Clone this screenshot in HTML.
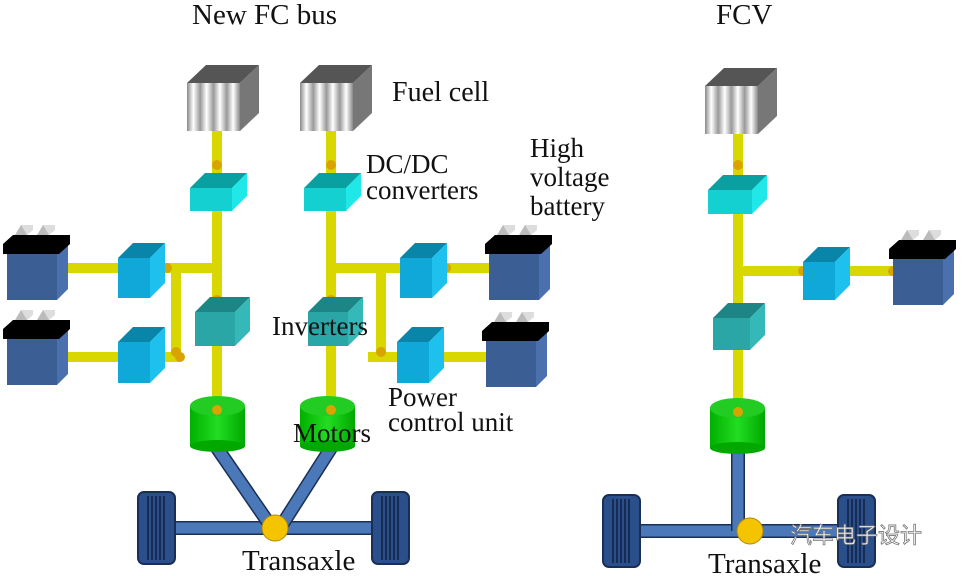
<!DOCTYPE html>
<html><head><meta charset="utf-8"><style>
html,body{margin:0;padding:0;background:#fff;width:962px;height:576px;overflow:hidden}
svg{display:block}
text{font-family:"Liberation Serif",serif;fill:#111}
</style></head><body>
<svg id="s" width="962" height="576" viewBox="0 0 962 576" xmlns="http://www.w3.org/2000/svg">
<defs>
<linearGradient id="fc" x1="0" x2="1" y1="0" y2="0">
<stop offset="0" stop-color="#888"/><stop offset="0.12" stop-color="#fff"/><stop offset="0.25" stop-color="#999"/>
<stop offset="0.37" stop-color="#fff"/><stop offset="0.5" stop-color="#999"/><stop offset="0.62" stop-color="#fff"/>
<stop offset="0.75" stop-color="#999"/><stop offset="0.87" stop-color="#fff"/><stop offset="1" stop-color="#888"/>
</linearGradient>
<linearGradient id="gr" x1="0" x2="1"><stop offset="0" stop-color="#00b000"/><stop offset="0.5" stop-color="#22dd22"/><stop offset="1" stop-color="#00a800"/></linearGradient>
</defs>
<g id="g"></g>
<text x="192" y="24" font-size="29">New FC bus</text>
<text x="716" y="24" font-size="29">FCV</text>
<text x="392" y="101" font-size="28">Fuel cell</text>
<text x="366" y="173" font-size="27">DC/DC</text>
<text x="366" y="199" font-size="27">converters</text>
<text x="530" y="157" font-size="27">High</text>
<text x="530" y="186" font-size="27">voltage</text>
<text x="530" y="215" font-size="27">battery</text>
<text x="272" y="335" font-size="27">Inverters</text>
<text x="388" y="406" font-size="27">Power</text>
<text x="388" y="431" font-size="27">control unit</text>
<text x="293" y="442" font-size="27">Motors</text>
<text x="242" y="570" font-size="29">Transaxle</text>
<text x="708" y="573" font-size="29">Transaxle</text>
<text x="790" y="543" font-size="22" style="font-family:'Noto Sans CJK SC',sans-serif;fill:#fff;stroke:#777;stroke-width:0.8">汽车电子设计</text>
</svg>
<script>
var g=document.getElementById('g'),h='';
function P(pts,f){h+='<polygon points="'+pts+'" fill="'+f+'"/>';}
function box(x,y,w,hh,d,fr,tp,sd){
 P([x,y,x+d,y-d,x+w+d,y-d,x+w,y].join(' '),tp);
 P([x+w,y,x+w+d,y-d,x+w+d,y+hh-d,x+w,y+hh].join(' '),sd);
 h+='<rect x="'+x+'" y="'+y+'" width="'+w+'" height="'+hh+'" fill="'+fr+'"/>';}
function bar(x1,y1,x2,y2,w){h+='<line x1="'+x1+'" y1="'+y1+'" x2="'+x2+'" y2="'+y2+'" stroke="#d8d800" stroke-width="'+(w||10)+'"/>';}
function dot(x,y){h+='<ellipse cx="'+x+'" cy="'+y+'" rx="5" ry="5" fill="#d9a400"/>';}
function fc(x,y){P([x,y,x+19,y-18,x+72,y-18,x+53,y].join(' '),'#555');P([x+53,y,x+72,y-18,x+72,y+30,x+53,y+48].join(' '),'#777');h+='<rect x="'+x+'" y="'+y+'" width="53" height="48" fill="url(#fc)"/>';}
function batt(x,y){
 box(x,y+4,50,46,11,'#3b5f95','#33507e','#4a70ae');
 P([x-4,y+4,x+52,y+4,x+63,y-6,x+63,y-15,x+6,y-15,x-4,y-6].join(' '),'#000');
 P([x+8,y-15,x+14,y-25,x+26,y-25,x+20,y-15].join(' '),'#bbb');
 P([x+30,y-15,x+36,y-25,x+48,y-25,x+42,y-15].join(' '),'#bbb');
 P([x+14,y-25,x+26,y-25,x+26,y-20,x+20,y-15].join(' '),'#ddd');
 P([x+36,y-25,x+48,y-25,x+48,y-20,x+42,y-15].join(' '),'#ddd');}
function conv(x,y,w,hh){box(x,y,w,hh,15,'#10a8d8','#0a85aa','#1ec0ee');}
function motor(x,y){h+='<rect x="'+x+'" y="'+(y+8)+'" width="55" height="40" fill="url(#gr)"/><ellipse cx="'+(x+27.5)+'" cy="'+(y+48)+'" rx="27.5" ry="6" fill="#00a800"/><ellipse cx="'+(x+27.5)+'" cy="'+(y+8)+'" rx="27.5" ry="10" fill="#22cc22"/>';}
function wheel(x,y){h+='<rect x="'+x+'" y="'+y+'" width="37" height="72" rx="6" fill="#2b4f8a" stroke="#1a2f55" stroke-width="2"/>';for(var i=0;i<5;i++)h+='<line x1="'+(x+10+i*4)+'" y1="'+(y+4)+'" x2="'+(x+10+i*4)+'" y2="'+(y+68)+'" stroke="#0f2040" stroke-width="1.5"/>';}
function strut(x1,y1,x2,y2){h+='<line x1="'+x1+'" y1="'+y1+'" x2="'+x2+'" y2="'+y2+'" stroke="#1a2f55" stroke-width="14"/><line x1="'+x1+'" y1="'+y1+'" x2="'+x2+'" y2="'+y2+'" stroke="#4a78b8" stroke-width="11"/>';}
strut(175,528,375,528);strut(217,448,272,528);strut(331,448,280,528);
strut(640,531,840,531);strut(738,448,738,531);
wheel(138,492);wheel(372,492);wheel(603,495);wheel(838,495);
h+='<circle cx="275" cy="528" r="13" fill="#f5c400" stroke="#b08a00"/><circle cx="750" cy="531" r="13" fill="#f5c400" stroke="#b08a00"/>';
bar(217,130,217,410);bar(331,130,331,410);bar(738,130,738,410);
bar(60,268,217,268);bar(176,268,176,352);bar(60,357,180,357);
bar(331,268,490,268);bar(381,268,381,352);bar(368,357,490,357);
bar(738,271,895,271);
dot(217,165);dot(331,165);dot(738,165);dot(176,352);dot(180,357);dot(381,352);dot(217,300);dot(331,300);dot(738,314);dot(167,268);dot(495,268);dot(495,357);dot(446,268);dot(803,271);dot(893,271);
fc(187,83);fc(300,83);fc(705,86);
box(190,188,42,23,15,'#14d0d0','#0a9fa0','#20e8e8');
box(304,188,42,23,15,'#14d0d0','#0a9fa0','#20e8e8');
box(708,190,44,24,15,'#14d0d0','#0a9fa0','#20e8e8');
box(195,312,40,34,15,'#2aa6a6','#1d8585','#35b8b8');
box(308,312,40,34,15,'#2aa6a6','#1d8585','#35b8b8');
box(713,318,37,32,15,'#2aa6a6','#1d8585','#35b8b8');
conv(118,258,32,40);conv(118,342,32,41);
conv(400,258,32,40);conv(397,342,32,41);conv(803,262,32,38);
batt(7,250);batt(7,335);batt(489,250);batt(486,337);batt(893,255);
motor(190,398);motor(300,398);motor(710,400);
dot(217,410);dot(331,410);dot(738,412);
g.innerHTML=h;
</script>
</body></html>
